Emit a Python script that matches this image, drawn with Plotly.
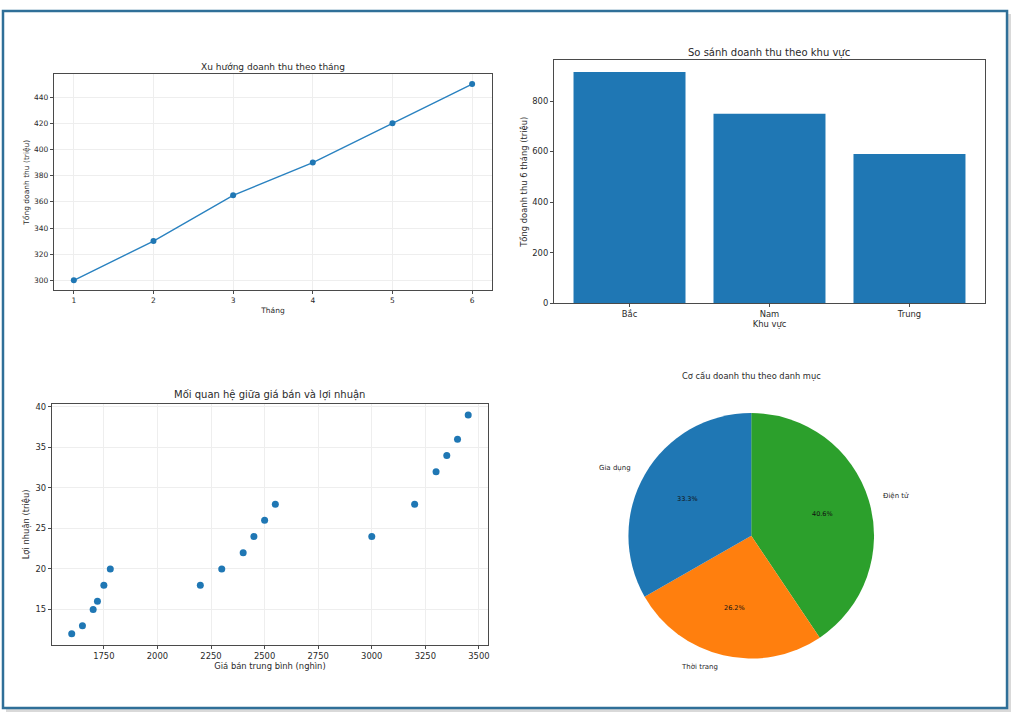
import numpy as np
import plotly.graph_objects as go

# ---------------- data ----------------
months = [1, 2, 3, 4, 5, 6]
monthly_revenue = [300, 330, 365, 390, 420, 450]

regions = ["Bắc", "Nam", "Trung"]
region_revenue = [915, 750, 590]

avg_price = [1600, 1650, 1700, 1720, 1750, 1780, 2200, 2300, 2400, 2450,
             2500, 2550, 3000, 3200, 3300, 3350, 3400, 3450]
profit = [12, 13, 15, 16, 18, 20, 18, 20, 22, 24,
          26, 28, 24, 28, 32, 34, 36, 39]

categories = ["Gia dụng", "Thời trang", "Điện tử"]
category_revenue = [750, 590, 915]

y_ticks_tl = [300, 320, 340, 360, 380, 400, 420, 440]
y_ticks_tr = [0, 200, 400, 600, 800]
x_ticks_bl = [1750, 2000, 2250, 2500, 2750, 3000, 3250, 3500]
y_ticks_bl = [15, 20, 25, 30, 35, 40]

# ---------------- style ----------------
W, H = 1024, 722
FONT = "DejaVu Sans"
TXT = "#2a2a2a"
SPINE = "#4a4a4a"
GRID = "#eeeeee"
BLUE = "#1f77b4"
PIE_COLORS = ["#1f77b4", "#ff7f0e", "#2ca02c"]


def px_x(x):
    return x / W


def px_y(y):
    return 1 - y / H


def pad_range(vals, frac=0.05):
    lo, hi = min(vals), max(vals)
    p = (hi - lo) * frac
    return [lo - p, hi + p]


fig = go.Figure()

# top-left: line
fig.add_trace(go.Scatter(
    x=months, y=monthly_revenue, mode="lines+markers",
    line=dict(color="#2a82c0", width=1.4),
    marker=dict(color=BLUE, size=6),
    xaxis="x", yaxis="y", showlegend=False,
))

# top-right: bars
fig.add_trace(go.Bar(
    x=regions, y=region_revenue, marker=dict(color=BLUE, line=dict(width=0)),
    xaxis="x2", yaxis="y2", showlegend=False,
))

# bottom-left: scatter
fig.add_trace(go.Scatter(
    x=avg_price, y=profit, mode="markers",
    marker=dict(color=BLUE, size=7),
    xaxis="x3", yaxis="y3", showlegend=False,
))

# bottom-right: pie. The first category starts at 12 o'clock and runs
# counter-clockwise; drawn clockwise from 12 o'clock in reversed order.
cx, cy, r = 752.7, 539.0, 124.0
fig.add_trace(go.Pie(
    labels=categories[::-1], values=category_revenue[::-1], sort=False,
    direction="clockwise", rotation=0,
    marker=dict(colors=PIE_COLORS[::-1], line=dict(width=0)),
    textinfo="none", hoverinfo="label+percent",
    domain=dict(x=[px_x(cx - r), px_x(cx + r)], y=[px_y(cy + r), px_y(cy - r)]),
    showlegend=False,
))

# pie labels (matplotlib-like placement, derived from the data)
vals = np.array(category_revenue, dtype=float)
fracs = vals / vals.sum()
starts = 90 + 360 * np.concatenate([[0], np.cumsum(fracs)[:-1]])
mids = np.deg2rad(starts + 180 * fracs)
annotations = []
for lab, f, a in zip(categories, fracs, mids):
    lx, ly = cx + 1.1 * r * np.cos(a), cy - 1.1 * r * np.sin(a)
    annotations.append(dict(
        x=px_x(lx), y=px_y(ly), xref="paper", yref="paper", text=lab,
        showarrow=False, xanchor="left" if np.cos(a) > 0 else "right",
        yanchor="middle", font=dict(family=FONT, size=7, color=TXT)))
    tx, ty = cx + 0.6 * r * np.cos(a), cy - 0.6 * r * np.sin(a)
    annotations.append(dict(
        x=px_x(tx), y=px_y(ty), xref="paper", yref="paper",
        text=f"{f * 100:.1f}%", showarrow=False, xanchor="center",
        yanchor="middle", font=dict(family=FONT, size=6.5, color="#111")))

# subplot titles
titles = [
    ("Xu hướng doanh thu theo tháng", 273.5, 66, 9),
    ("So sánh doanh thu theo khu vực", 771, 51, 10),
    ("Mối quan hệ giữa giá bán và lợi nhuận", 270.5, 397, 10),
    ("Cơ cấu doanh thu theo danh mục", 752.7, 378, 8.3),
]
for t, x, y, s in titles:
    annotations.append(dict(
        x=px_x(x), y=px_y(y), xref="paper", yref="paper", text=t,
        showarrow=False, xanchor="center", yanchor="middle",
        font=dict(family=FONT, size=s, color=TXT)))


def axis(domain, title, fs, standoff, **kw):
    d = dict(
        domain=domain, showline=True, linecolor=SPINE, linewidth=1, mirror=True,
        ticks="outside", ticklen=3, tickcolor=SPINE, tickwidth=1,
        tickfont=dict(family=FONT, size=fs, color=TXT),
        title=dict(text=title, font=dict(family=FONT, size=fs, color=TXT), standoff=standoff),
        zeroline=False, showgrid=False,
    )
    d.update(kw)
    return d


fig.update_layout(
    width=W, height=H,
    margin=dict(l=0, r=0, t=0, b=0),
    paper_bgcolor="white", plot_bgcolor="white",
    font=dict(family=FONT, color=TXT),
    bargap=0.2,
    xaxis=axis([px_x(54), px_x(493)], "Tháng", 7.5, 3, anchor="y",
               range=pad_range(months), tickmode="array", tickvals=months,
               showgrid=True, gridcolor=GRID, gridwidth=0.8),
    yaxis=axis([px_y(291), px_y(73)], "Tổng doanh thu (triệu)", 7.5, 3, anchor="x",
               range=pad_range(monthly_revenue), tickmode="array", tickvals=y_ticks_tl,
               showgrid=True, gridcolor=GRID, gridwidth=0.8),
    xaxis2=axis([px_x(555), px_x(987)], "Khu vực", 8.4, 2, anchor="y2",
                type="category", range=[-0.54, len(regions) - 1 + 0.54]),
    yaxis2=axis([px_y(304), px_y(59)], "Tổng doanh thu 6 tháng (triệu)", 8.4, 3, anchor="x2",
                range=[0, max(region_revenue) * 1.05], tickmode="array", tickvals=y_ticks_tr),
    xaxis3=axis([px_x(52), px_x(489)], "Giá bán trung bình (nghìn)", 8.4, 3, anchor="y3",
                range=pad_range(avg_price), tickmode="array", tickvals=x_ticks_bl,
                showgrid=True, gridcolor=GRID, gridwidth=0.8),
    yaxis3=axis([px_y(649), px_y(406)], "Lợi nhuận (triệu)", 8.4, 4, anchor="x3",
                range=pad_range(profit), tickmode="array", tickvals=y_ticks_bl,
                showgrid=True, gridcolor=GRID, gridwidth=0.8),
    annotations=annotations,
    shapes=[
        dict(type="rect", xref="paper", yref="paper", layer="below",
             x0=px_x(6), x1=px_x(1013), y0=px_y(717), y1=px_y(12),
             line=dict(width=0), fillcolor="rgba(0,0,0,0.15)"),
        dict(type="rect", xref="paper", yref="paper", layer="below",
             x0=px_x(3), x1=px_x(1009), y0=px_y(713), y1=px_y(9),
             line=dict(color="#2f6f98", width=2.5), fillcolor="white"),
    ],
)

fig.write_html(
    "out.html",
    config={"displayModeBar": False},
    post_script="document.body.style.margin='0';document.body.style.overflow='hidden';",
)
